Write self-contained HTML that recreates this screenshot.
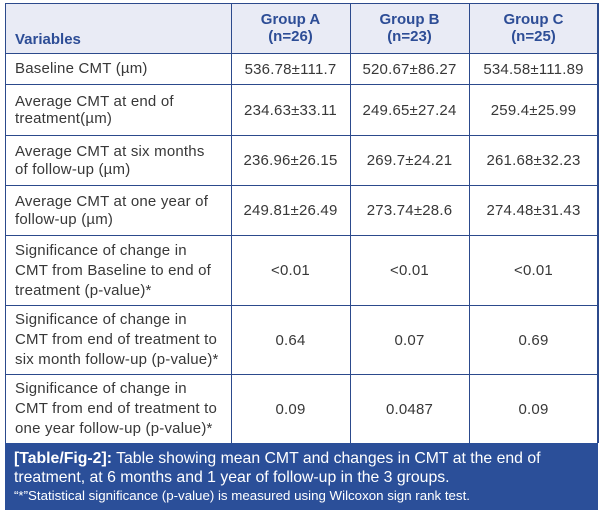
<!DOCTYPE html>
<html>
<head>
<meta charset="utf-8">
<style>
  html,body{margin:0;padding:0;background:#fff;}
  body{width:602px;height:514px;position:relative;overflow:hidden;
       font-family:"Liberation Sans",Arial,sans-serif;color:#383838;}
  .hdr{position:absolute;left:5px;top:3px;width:593px;height:50px;background:#e9ebf5;}
  .h{position:absolute;background:#2c4a8c;height:1.5px;left:5px;width:593px;}
  .v{position:absolute;background:#2c4a8c;width:1.5px;top:3px;height:440px;}
  .c{position:absolute;display:flex;align-items:center;font-size:15px;letter-spacing:0.2px;}
  .l{left:15px;width:214px;}
  .n{justify-content:center;text-align:center;}
  .a{left:231px;width:119px;}
  .b{left:350px;width:119px;}
  .cc{left:469px;width:129px;}
  .gh{position:absolute;top:8px;height:40px;display:flex;flex-direction:column;align-items:center;justify-content:center;
      font-weight:bold;color:#2d4d96;font-size:15px;line-height:17px;}
  .cap{position:absolute;left:5px;top:443px;width:593px;height:67px;background:#2b4f99;color:#fff;}
</style>
</head>
<body>
<div class="hdr"></div>

<div class="h" style="top:2.5px"></div>
<div class="h" style="top:52.5px"></div>
<div class="h" style="top:83.5px"></div>
<div class="h" style="top:134.5px"></div>
<div class="h" style="top:184.5px"></div>
<div class="h" style="top:234.5px"></div>
<div class="h" style="top:304.5px"></div>
<div class="h" style="top:373.5px"></div>

<div class="v" style="left:4.5px"></div>
<div class="v" style="left:230.5px"></div>
<div class="v" style="left:349.5px"></div>
<div class="v" style="left:468.5px"></div>
<div class="v" style="left:597px"></div>

<div style="position:absolute;left:15px;top:31px;font-weight:bold;color:#2d4d96;font-size:15px;line-height:18px;">Variables</div>
<div class="gh" style="left:231px;width:119px;"><div>Group A</div><div>(n=26)</div></div>
<div class="gh" style="left:350px;width:119px;"><div>Group B</div><div>(n=23)</div></div>
<div class="gh" style="left:469px;width:129px;"><div>Group C</div><div>(n=25)</div></div>

<div class="c l" style="top:54px;height:30px;line-height:18px;">Baseline CMT (µm)</div>
<div class="c n a" style="top:54px;height:30px;">536.78±111.7</div>
<div class="c n b" style="top:54px;height:30px;">520.67±86.27</div>
<div class="c n cc" style="top:54px;height:30px;">534.58±111.89</div>

<div class="c l" style="top:85px;height:50px;line-height:17.5px;">Average CMT at end of<br>treatment(µm)</div>
<div class="c n a" style="top:85px;height:50px;">234.63±33.11</div>
<div class="c n b" style="top:85px;height:50px;">249.65±27.24</div>
<div class="c n cc" style="top:85px;height:50px;">259.4±25.99</div>

<div class="c l" style="top:136px;height:49px;line-height:17.5px;">Average CMT at six months<br>of follow-up (µm)</div>
<div class="c n a" style="top:136px;height:49px;">236.96±26.15</div>
<div class="c n b" style="top:136px;height:49px;">269.7±24.21</div>
<div class="c n cc" style="top:136px;height:49px;">261.68±32.23</div>

<div class="c l" style="top:186px;height:49px;line-height:17.5px;">Average CMT at one year of<br>follow-up (µm)</div>
<div class="c n a" style="top:186px;height:49px;">249.81±26.49</div>
<div class="c n b" style="top:186px;height:49px;">273.74±28.6</div>
<div class="c n cc" style="top:186px;height:49px;">274.48±31.43</div>

<div class="c l" style="top:236px;height:69px;line-height:20px;">Significance of change in<br>CMT from Baseline to end of<br>treatment (p-value)*</div>
<div class="c n a" style="top:236px;height:69px;">&lt;0.01</div>
<div class="c n b" style="top:236px;height:69px;">&lt;0.01</div>
<div class="c n cc" style="top:236px;height:69px;">&lt;0.01</div>

<div class="c l" style="top:306px;height:68px;line-height:20px;">Significance of change in<br>CMT from end of treatment to<br>six month follow-up (p-value)*</div>
<div class="c n a" style="top:306px;height:68px;">0.64</div>
<div class="c n b" style="top:306px;height:68px;">0.07</div>
<div class="c n cc" style="top:306px;height:68px;">0.69</div>

<div class="c l" style="top:375px;height:68px;line-height:20px;">Significance of change in<br>CMT from end of treatment to<br>one year follow-up (p-value)*</div>
<div class="c n a" style="top:375px;height:68px;">0.09</div>
<div class="c n b" style="top:375px;height:68px;">0.0487</div>
<div class="c n cc" style="top:375px;height:68px;">0.09</div>

<div class="cap">
  <div style="position:absolute;left:9px;top:6px;font-size:15.8px;line-height:19px;white-space:nowrap;">
    <b>[Table/Fig-2]:</b> Table showing mean CMT and changes in CMT at the end of<br>
    treatment, at 6 months and 1 year of follow-up in the 3 groups.
  </div>
  <div style="position:absolute;left:9px;top:45px;font-size:13.3px;line-height:16px;white-space:nowrap;">“*”Statistical significance (p-value) is measured using Wilcoxon sign rank test.</div>
</div>
</body>
</html>
